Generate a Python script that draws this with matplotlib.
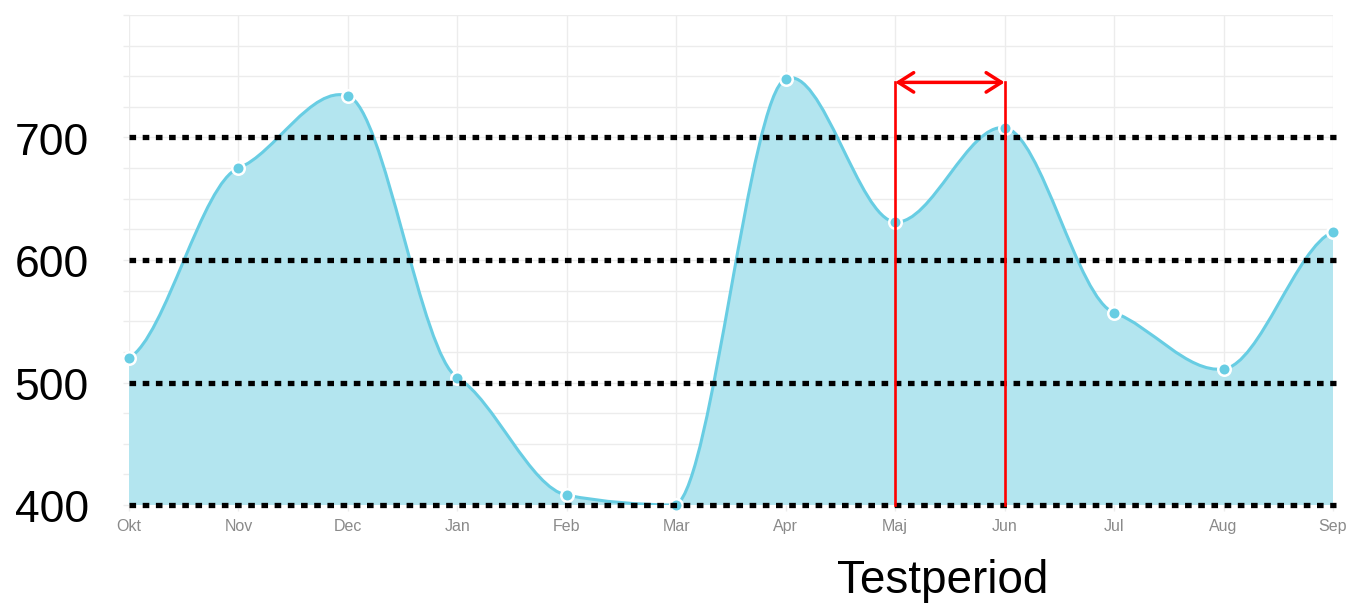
"""Monthly curve with reference levels and a marked test period."""

import matplotlib
matplotlib.use("Agg")
import matplotlib.pyplot as plt
import numpy as np
from matplotlib.path import Path
from matplotlib.patches import PathPatch

months = ["Okt", "Nov", "Dec", "Jan", "Feb", "Mar",
          "Apr", "Maj", "Jun", "Jul", "Aug", "Sep"]
values = [520, 675, 734, 504, 408, 400, 748, 631, 708, 557, 511, 623]
ref_levels = [400, 500, 600, 700]
grid_levels = list(range(400, 801, 25))
test_period = ("Maj", "Jun")
test_label = "Testperiod"
arrow_level = 745

LINE = "#68cde3"
FILL = "#b3e5ef"
GRID = "#ececec"


def _soft_controls(px, py, ylo, yhi, k=0.32):
    """Bezier control points with damped tangents (pixel space), capped to the area."""
    n = len(px)
    prev_cp, next_cp = [], []
    for i in range(n):
        a, b = max(i - 1, 0), min(i + 1, n - 1)
        m = k * (py[b] - py[a]) / (px[b] - px[a])
        dxp = (px[i] - px[i - 1]) / 3 if i > 0 else 0
        dxn = (px[i + 1] - px[i]) / 3 if i < n - 1 else 0
        prev_cp.append([px[i] - dxp, min(max(py[i] - m * dxp, ylo), yhi)])
        next_cp.append([px[i] + dxn, min(max(py[i] + m * dxn, ylo), yhi)])
    return prev_cp, next_cp


fig = plt.figure(figsize=(13.5, 6.05), dpi=100)
ax = fig.add_axes([129 / 1350, 1 - 505 / 605, 1204 / 1350, 490 / 605])
x = np.arange(len(months))
ax.set_xlim(0, len(months) - 1)
ax.set_ylim(grid_levels[0], grid_levels[-1])

# smooth curve built in display space, then mapped back to data
pix = ax.transData.transform(np.column_stack([x, values]))
lo = ax.transData.transform((0, grid_levels[0]))[1]
hi = ax.transData.transform((0, grid_levels[-1]))[1]
pcp, ncp = _soft_controls(pix[:, 0], pix[:, 1], min(lo, hi), max(lo, hi))
verts = [tuple(pix[0])]
codes = [Path.MOVETO]
for i in range(1, len(x)):
    verts += [tuple(ncp[i - 1]), tuple(pcp[i]), tuple(pix[i])]
    codes += [Path.CURVE4] * 3
inv = ax.transData.inverted()
curve_verts = inv.transform(np.array(verts))
fill_verts = np.vstack([curve_verts, [[x[-1], grid_levels[0]], [x[0], grid_levels[0]], [x[0], values[0]]]])
fill_codes = codes + [Path.LINETO, Path.LINETO, Path.CLOSEPOLY]

ax.add_patch(PathPatch(Path(fill_verts, fill_codes), facecolor=FILL, edgecolor="none", zorder=2))
ax.add_patch(PathPatch(Path(curve_verts, codes), facecolor="none", edgecolor=LINE,
                       linewidth=2.2, zorder=3))
ax.plot(x, values, "o", color=LINE, markersize=9, markeredgecolor="white",
        markeredgewidth=1.8, zorder=4, clip_on=False)

# reference levels
for lvl in ref_levels:
    ax.plot([x[0], x[-1] + 0.03], [lvl, lvl], color="black", linewidth=3.8,
            linestyle=(0, (1.25, 1.25)), dash_capstyle="butt", zorder=5, clip_on=False)
    ax.annotate(str(lvl), xy=(0, lvl), xycoords=("axes fraction", "data"),
                xytext=(-29, -4), textcoords="offset points", ha="right", va="center",
                fontsize=32, family="Liberation Sans", color="black")

# test period marker
i0, i1 = months.index(test_period[0]), months.index(test_period[1])
for i in (i0, i1):
    ax.plot([i, i], [grid_levels[0], arrow_level], color="red", linewidth=1.9,
            zorder=6, clip_on=False)
ax.annotate("", xy=(i0, arrow_level), xytext=(i1, arrow_level),
            arrowprops=dict(arrowstyle="<->,head_length=0.55,head_width=0.35",
                            color="red", linewidth=2.5, shrinkA=0, shrinkB=0,
                            mutation_scale=20), zorder=6)
ax.annotate(test_label, xy=((i0 + i1) / 2, grid_levels[0]), xytext=(-5, -55),
            textcoords="offset points", ha="center", va="center",
            fontsize=33, family="Liberation Sans", color="black", annotation_clip=False)

ax.set_xticks(x)
ax.set_xticklabels(months, family="Liberation Sans", fontsize=11.5, color="#8a8a8a")
ax.set_yticks(grid_levels)
ax.set_yticklabels([])
ax.grid(True, color=GRID, linewidth=1)
ax.set_axisbelow(True)
ax.tick_params(axis="both", length=4, color=GRID, width=1)
ax.tick_params(axis="x", pad=6)
for s in ax.spines.values():
    s.set_visible(False)

fig.savefig("out.png", dpi=100)
